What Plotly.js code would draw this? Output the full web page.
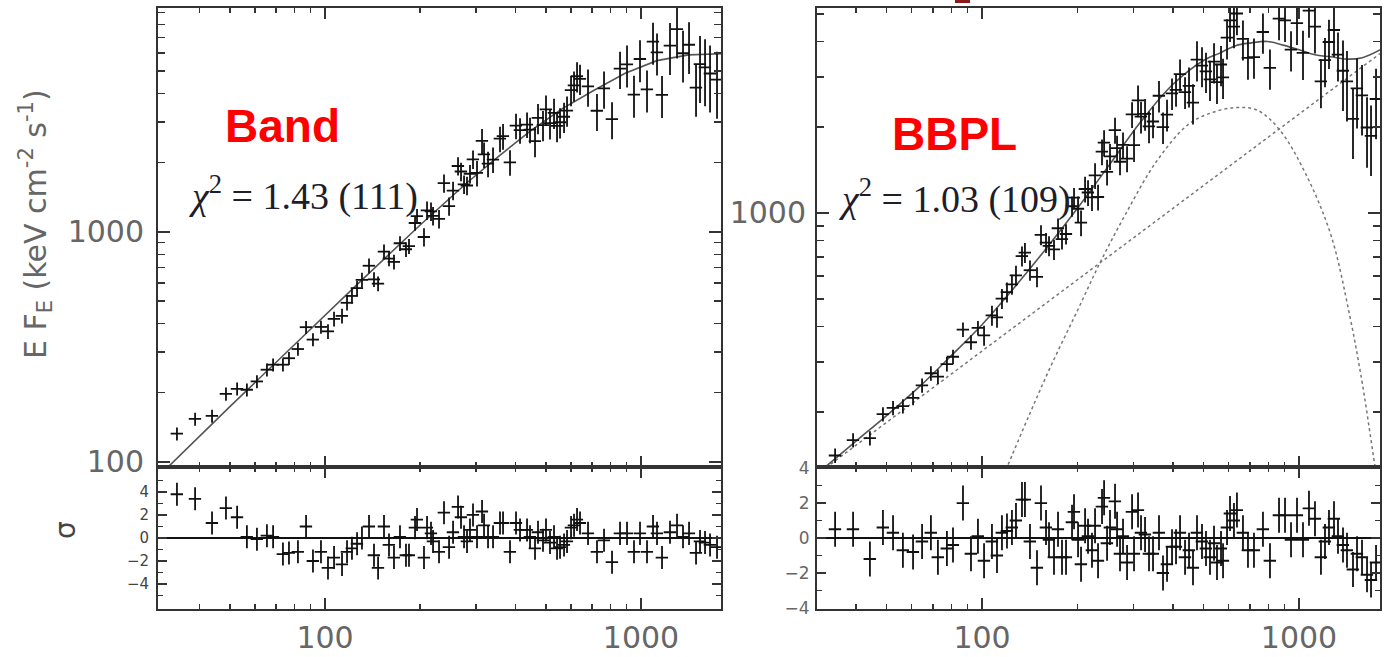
<!DOCTYPE html>
<html>
<head>
<meta charset="utf-8">
<script src="https://cdn.plot.ly/plotly-3.0.1.min.js"></script>
<style>html,body{margin:0;padding:0;background:#fff;}#chart{width:1386px;height:657px;}</style>
</head>
<body>
<div id="chart"></div>
<script>
// ---------- Band fit (left) ----------
const bandEnergy = [34.0, 38.8, 43.9, 48.6, 52.7, 56.6, 60.9, 65.5, 68.5, 73.6,
  76.9, 82.1, 87.1, 91.6, 97.1, 102.2, 106.8, 113.2, 117.4, 121.7,
  126.3, 130.9, 137.8, 142.9, 147.2, 153.7, 159.4, 165.3, 172.7, 180.4,
  184.4, 192.7, 195.5, 205.7, 210.3, 216.5, 219.7, 229.5, 238.0, 246.9,
  254.2, 263.6, 269.4, 275.4, 281.4, 287.6, 294.0, 302.7, 314.0, 318.6,
  328.0, 340.2, 357.9, 365.9, 385.0, 402.2, 414.1, 435.8, 445.4, 461.9,
  472.1, 489.6, 500.4, 515.2, 530.5, 542.3, 554.3, 570.7, 583.3, 600.6,
  613.8, 627.4, 641.2, 679.7, 725.6, 763.8, 809.6, 858.2, 903.1, 950.1,
  992.7, 1044.7, 1091.4, 1123.6, 1165.4, 1235.3, 1299.9, 1358.0, 1418.9, 1493.2,
  1537.2, 1594.3, 1653.6, 1739.9];
const bandFlux = [132.7, 153.8, 158.5, 197.6, 208, 206, 223.9, 251.8, 264.8, 264.8,
  282.5, 309.7, 385.5, 340.4, 386.4, 369.8, 418.8, 431.5, 492, 527,
  570, 619, 713, 622, 596, 822, 766, 741, 893, 841,
  867, 1094, 1172, 951, 1242, 1230, 1175, 1140, 1629, 1294,
  1514, 1936, 1832, 1611, 1592, 1791, 2070, 1807, 2489, 2173,
  1982, 2065, 2547, 2612, 2009, 2897, 2773, 2931, 2786, 2483,
  3133, 2917, 3412, 2972, 3296, 2891, 2999, 3170, 3373, 4140,
  4335, 4753, 4634, 4295, 3365, 4207, 3097, 5129, 5358, 3954,
  5649, 4169, 6730, 6039, 3945, 6457, 7621, 5984, 6516, 4246,
  5370, 5200, 4887, 4592];
const bandRelErrPct = [6.5,6.5,6.5,6.5,6.5,6.5,6.5,6.5,6.5,6.5,6.5,6.5,6.5,6.5,6.5,
  7.4,7.4,7.4,7.4,7.4,7.4,7.4,7.4,7.4,7.4,7.4,7.4,7.4,7.4,7.4,7.4,7.4,7.4,
  9.2,9.2,9.2,9.2,9.2,9.2,9.2,9.2,9.2,9.2,9.2,9.2,9.2,9.2,
  12.7,12.7,12.7,12.7,12.7,12.7,12.7,12.7,12.7,12.7,12.7,12.7,
  15,15,15,15,15,15,15,15,15,15,15,15,15,15,
  18.4,18.4,18.4,18.4,18.4,
  20.7,20.7,20.7,20.7,20.7,20.7,20.7,
  25.4,25.4,25.4,25.4,25.4,
  32.3,32.3,32.3,32.3];
const bandResid = [3.8, 3.4, 1.3, 2.6, 1.8, 0.1, -0.1, 0.2, 0.1, -1.4,
  -1.3, -1.2, 1.0, -2.0, -1.2, -2.6, -1.7, -2.3, -1.2, -0.9,
  -0.5, 0.0, 1.0, -1.5, -2.6, 1.0, -0.6, -1.7, 0.1, -1.5,
  -1.5, 0.9, 1.6, -1.7, 0.9, 0.4, -0.3, -1.2, 2.2, -0.8,
  0.5, 2.7, 1.8, 0.1, -0.3, 0.7, 2.0, 0.1, 2.3, 1.1,
  0.1, 0.1, 1.3, 1.3, -1.2, 1.3, 0.7, 0.7, 0.1, -0.9,
  0.5, -0.2, 0.7, -0.4, 0.1, -0.9, -0.8, -0.6, -0.3, 0.9,
  1.1, 1.6, 1.3, 0.4, -1.2, -0.2, -2.1, 0.4, 0.4, -1.2,
  0.4, -1.2, 1.0, 0.4, -1.7, 0.5, 1.1, 0.1, 0.4, -1.3,
  -0.3, -0.4, -0.6, -0.8];
const bandModelE = [31.6, 50, 79.4, 126, 200, 282, 355, 447, 562, 708, 891, 1122, 1413, 1820];
const bandModelF = [94, 174, 320, 589, 1072, 1641, 2138, 2754, 3428, 4121, 4898, 5559, 5888, 5957];

// ---------- BBPL fit (right) ----------
const bbplEnergy = [34.4, 39.2, 44.3, 48.7, 52.4, 56.3, 60.6, 64.7, 69.0, 72.6,
  77.5, 81.0, 87.1, 92.3, 97.1, 101.5, 107.5, 111.5, 115.6, 119.9,
  124.3, 128.0, 133.7, 136.6, 141.7, 149.1, 153.5, 159.2, 162.7, 168.7,
  173.7, 178.8, 184.1, 192.3, 195.1, 200.9, 205.3, 211.4, 216.0, 222.3,
  227.3, 232.3, 239.1, 242.7, 248.0, 253.4, 262.8, 266.7, 272.5, 278.5,
  286.8, 297.4, 301.7, 310.6, 317.4, 326.8, 336.4, 346.3, 361.7, 372.4,
  383.4, 397.6, 409.3, 421.4, 437.0, 449.8, 463.0, 476.7, 494.3, 508.9,
  523.9, 539.4, 551.2, 567.5, 575.9, 592.8, 605.9, 623.5, 637.2, 665.6,
  690.3, 721.1, 769.7, 809.9, 864.9, 903.4, 943.6, 985.6, 1029.4, 1075.2,
  1123.0, 1172.9, 1207.8, 1243.3, 1289.4, 1327.4, 1376.6, 1417.1, 1480.2, 1524.1,
  1580.4, 1639.0, 1687.3, 1749.9];
const bbplFlux = [141, 159.5, 162.2, 196.8, 207, 210, 224.4, 248.3, 274, 266.8,
  295, 313, 390, 352, 395, 372, 437.5, 430.5, 501, 528,
  562, 604, 706, 726, 630, 597, 838, 787, 767, 745,
  884, 810, 844, 1056, 1132, 1035, 925, 1214, 1180, 1135,
  1355, 1138, 1641, 1766, 1393, 1581, 1954, 1690, 1513, 1734,
  1552, 2218, 1730, 2483, 2178, 2228, 2014, 2094, 2578, 2000,
  2213, 2630, 2704, 3069, 2655, 2793, 2438, 3451, 3289, 3141,
  2944, 3396, 2877, 3319, 2992, 4121, 4742, 4508, 5012, 4083,
  3499, 3524, 4315, 3228, 4808, 4742, 3741, 4634, 3643, 5126,
  4508, 2897, 3436, 3981, 4385, 3597, 3155, 2897, 2138, 2735,
  2588, 1995, 1866, 2512];
const bbplRelErrPct = [5.8,5.8,5.8,5.8,5.8,5.8,5.8,5.8,5.8,5.8,5.8,5.8,5.8,5.8,5.8,
  8.1,8.1,8.1,8.1,8.1,8.1,8.1,8.1,8.1,8.1,8.1,8.1,8.1,8.1,8.1,8.1,8.1,8.1,8.1,8.1,
  10.4,10.4,10.4,10.4,10.4,10.4,10.4,10.4,10.4,10.4,10.4,10.4,10.4,10.4,10.4,10.4,10.4,
  12.7,12.7,12.7,12.7,12.7,12.7,12.7,12.7,12.7,12.7,12.7,12.7,12.7,
  16.1,16.1,16.1,16.1,16.1,16.1,16.1,16.1,16.1,16.1,16.1,16.1,16.1,16.1,16.1,16.1,16.1,16.1,16.1,16.1,16.1,16.1,16.1,
  19.6,19.6,19.6,19.6,19.6,19.6,19.6,19.6,
  27.7,27.7,27.7,27.7,27.7,27.7,27.7,27.7];
const bbplResid = [0.5, 0.5, -1.2, 0.6, 0.3, -0.7, -0.8, -0.2, 0.3, -1.1,
  -0.6, -0.4, 2.0, -0.9, 0.1, -1.3, -0.2, -1.0, 0.3, 0.4,
  0.6, 1.0, 2.2, 2.2, -0.2, -1.7, 2.0, 0.6, -0.1, -1.1,
  0.5, -1.1, -1.1, 0.9, 1.5, -0.1, -1.5, 0.7, 0.1, -0.7,
  0.7, -1.3, 1.8, 2.3, -0.3, 0.6, 2.1, 0.5, -0.9, 0.1,
  -1.4, 1.5, -0.9, 1.6, 0.3, 0.2, -0.9, -0.9, 0.3, -2.0,
  -1.5, -0.5, -0.5, 0.3, -1.1, -0.7, -1.7, 0.3, -0.2, -0.6,
  -1.1, -0.3, -1.4, -0.6, -1.3, 0.6, 1.4, 1.0, 1.6, 0.3,
  -0.7, -0.7, 0.5, -1.3, 1.3, 1.3, -0.1, 1.3, -0.1, 1.7,
  1.1, -1.1, -0.2, 0.6, 1.1, 0.1, -0.4, -0.7, -1.8, -0.9,
  -1.1, -2.1, -2.4, -1.4];
const bbplTotalE = [30.2, 39.8, 50.1, 63.1, 79.4, 100, 125.9, 158.5, 199.5, 251.2, 316.2, 398.1, 501.2, 562.3, 631, 707.9, 794.3, 891.3, 1000, 1122, 1259, 1413, 1585, 1820];
const bbplTotalF = [121.6, 157.4, 195, 244.3, 313.3, 405.5, 544.5, 744.7, 1035, 1466, 2084, 2812, 3436, 3639, 3864, 3954, 3999, 3882, 3741, 3589, 3532, 3467, 3508, 3758];
const plE = [30, 1800];
const plF = [120.5, 3622];
const bbE = [114.8, 120, 141.3, 166, 199.5, 235.5, 281.8, 354.8, 446.7, 524.8, 631, 741.3, 871, 1047, 1259, 1445, 1585, 1738, 1778];
const bbF = [114.8, 128.5, 197, 295, 452, 668, 977, 1514, 2042, 2239, 2344, 2291, 1950, 1380, 841, 437, 251, 128.8, 112];

// ---------- tick labels & texts ----------
const xMajorTicks = [100, 1000];
const xMajorLabels = ['100', '1000'];
const xMinorTicks = [40, 50, 60, 70, 80, 90, 200, 300, 400, 500, 600, 700, 800, 900];
const yLeftMajor = [100, 1000];
const yLeftLabels = ['100', '1000'];
const yLeftMinor = [200, 300, 400, 500, 600, 700, 800, 900, 2000, 3000, 4000, 5000, 6000, 7000, 8000, 9000];
const yRightMajor = [1000];
const yRightLabels = ['1000'];
const yRightMinor = [200, 300, 400, 500, 600, 700, 800, 900, 2000, 3000, 4000, 5000];
const residMajor = [-4, -2, 0, 2, 4];
const residLabels = ['\u22124', '\u22122', '0', '2', '4'];
const residMinorLeft = [-5, -3, -1, 1, 3, 5];
const residMinorRight = [-3, -1, 1, 3];
const labelBand = 'Band';
const labelBBPL = 'BBPL';
const chiBand = '<i>\u03c7</i><sup>2</sup> = 1.43 (111)';
const chiBBPL = '<i>\u03c7</i><sup>2</sup> = 1.03 (109)';
const yTitleTop = 'E F<sub>E</sub> (keV cm<sup>-2</sup> s<sup>-1</sup>)';
const yTitleRes = '\u03c3';

// ---------- styling ----------
const AX = 'DejaVu Sans, Liberation Sans, Arial, sans-serif';
const LINE = '#333';
const base = {showline:true, linecolor:LINE, linewidth:2, mirror:'ticks', ticks:'inside',
  tickcolor:LINE, tickwidth:1.5, showgrid:false, zeroline:false,
  tickfont:{family:AX, size:30, color:'#666'}};
function minorOf(vals, len){return {tickmode:'array', tickvals:vals, ticks:'inside', ticklen:len, tickcolor:LINE, tickwidth:1.5, showgrid:false};}
const errs = (f, p) => f.map((v, i) => v * p[i] / 100);
const ones = n => new Array(n).fill(1);

const crossStyle = {mode:'markers', marker:{size:1, color:'#111'}, hoverinfo:'skip'};
const ex = {type:'percent', value:4.5, color:'#111', thickness:1.8, width:0};

const traces = [
  {x:bandModelE, y:bandModelF, xaxis:'x', yaxis:'y', mode:'lines', line:{color:'#555', width:1.6}},
  Object.assign({x:bandEnergy, y:bandFlux, xaxis:'x', yaxis:'y',
    error_x:ex, error_y:{type:'data', array:errs(bandFlux, bandRelErrPct), color:'#111', thickness:1.8, width:0}}, crossStyle),
  Object.assign({x:bandEnergy, y:bandResid, xaxis:'x2', yaxis:'y2',
    error_x:ex, error_y:{type:'data', array:ones(bandResid.length), color:'#111', thickness:1.8, width:0}}, crossStyle),
  {x:plE, y:plF, xaxis:'x3', yaxis:'y3', mode:'lines', line:{color:'#777', width:1.5, dash:'dot'}},
  {x:bbE, y:bbF, xaxis:'x3', yaxis:'y3', mode:'lines', line:{color:'#777', width:1.5, dash:'dot', shape:'spline'}},
  {x:bbplTotalE, y:bbplTotalF, xaxis:'x3', yaxis:'y3', mode:'lines', line:{color:'#555', width:1.6, shape:'spline'}},
  Object.assign({x:bbplEnergy, y:bbplFlux, xaxis:'x3', yaxis:'y3',
    error_x:ex, error_y:{type:'data', array:errs(bbplFlux, bbplRelErrPct), color:'#111', thickness:1.8, width:0}}, crossStyle),
  Object.assign({x:bbplEnergy, y:bbplResid, xaxis:'x4', yaxis:'y4',
    error_x:ex, error_y:{type:'data', array:ones(bbplResid.length), color:'#111', thickness:1.8, width:0}}, crossStyle)
];

const topDom = [0.28919, 0.98858];
const botDom = [0.07382, 0.28919];
const leftDom = [0.1140, 0.5202];
const rightDom = [0.58947, 0.99567];

const layout = {
  width:1386, height:657, margin:{l:0, r:0, t:0, b:0, pad:0},
  paper_bgcolor:'#fff', plot_bgcolor:'#fff', showlegend:false,
  xaxis: Object.assign({}, base, {type:'log', domain:leftDom, range:[1.4715, 3.2531], anchor:'y',
    tickmode:'array', tickvals:xMajorTicks, ticktext:xMajorLabels, showticklabels:false, ticklen:11, minor:minorOf(xMinorTicks, 5)}),
  yaxis: Object.assign({}, base, {type:'log', domain:topDom, range:[1.978, 3.976], anchor:'x',
    tickmode:'array', tickvals:yLeftMajor, ticktext:yLeftLabels, ticklen:12, ticklabelstandoff:6, minor:minorOf(yLeftMinor, 7)}),
  xaxis2: Object.assign({}, base, {type:'log', domain:leftDom, range:[1.4715, 3.2531], anchor:'y2',
    tickmode:'array', tickvals:xMajorTicks, ticktext:xMajorLabels, ticklen:11, ticklabelstandoff:1, minor:minorOf(xMinorTicks, 5)}),
  yaxis2: Object.assign({}, base, {domain:botDom, range:[-6.13, 6.17], anchor:'x2',
    tickmode:'array', tickvals:residMajor, ticktext:residLabels, ticklen:9, ticklabelstandoff:4,
    tickfont:{family:AX, size:15, color:'#444'}, minor:minorOf(residMinorLeft, 5),
    zeroline:true, zerolinecolor:'#111', zerolinewidth:1.8}),
  xaxis3: Object.assign({}, base, {type:'log', domain:rightDom, range:[1.4795, 3.2555], anchor:'y3',
    tickmode:'array', tickvals:xMajorTicks, ticktext:xMajorLabels, showticklabels:false, ticklen:11, minor:minorOf(xMinorTicks, 5)}),
  yaxis3: Object.assign({}, base, {type:'log', domain:topDom, range:[2.1088, 3.721], anchor:'x3',
    tickmode:'array', tickvals:yRightMajor, ticktext:yRightLabels, ticklen:12, ticklabelstandoff:3, minor:minorOf(yRightMinor, 7)}),
  xaxis4: Object.assign({}, base, {type:'log', domain:rightDom, range:[1.4795, 3.2555], anchor:'y4',
    tickmode:'array', tickvals:xMajorTicks, ticktext:xMajorLabels, ticklen:11, ticklabelstandoff:1, minor:minorOf(xMinorTicks, 5)}),
  yaxis4: Object.assign({}, base, {domain:botDom, range:[-4.03, 4.06], anchor:'x4',
    tickmode:'array', tickvals:residMajor, ticktext:residLabels, ticklen:9, ticklabelstandoff:2,
    tickfont:{family:AX, size:17, color:'#666'}, minor:minorOf(residMinorRight, 5),
    zeroline:true, zerolinecolor:'#111', zerolinewidth:1.8}),
  annotations: [
    {text:'<b>'+labelBand+'</b>', xref:'paper', yref:'paper', x:282/1386, y:1-126/657, xanchor:'center', yanchor:'middle', showarrow:false,
      font:{family:'Liberation Sans, Arial, sans-serif', size:46, color:'#ff0000'}},
    {text:'<b>'+labelBBPL+'</b>', xref:'paper', yref:'paper', x:954/1386, y:1-134/657, xanchor:'center', yanchor:'middle', showarrow:false,
      font:{family:'Liberation Sans, Arial, sans-serif', size:46, color:'#ff0000'}},
    {text:chiBand, xref:'paper', yref:'paper', x:186/1386, y:1-193/657, xanchor:'left', yanchor:'middle', showarrow:false,
      font:{family:'Liberation Serif, Times New Roman, serif', size:38, color:'#1d1d2b'}},
    {text:chiBBPL, xref:'paper', yref:'paper', x:836/1386, y:1-196/657, xanchor:'left', yanchor:'middle', showarrow:false,
      font:{family:'Liberation Serif, Times New Roman, serif', size:38, color:'#1d1d2b'}},
    {text:yTitleTop, xref:'paper', yref:'paper', x:35/1386, y:1-224/657, xanchor:'center', yanchor:'middle', textangle:-90, showarrow:false,
      font:{family:AX, size:30, color:'#666'}},
    {text:yTitleRes, xref:'paper', yref:'paper', x:65/1386, y:1-530/657, xanchor:'center', yanchor:'middle', textangle:-90, showarrow:false,
      font:{family:AX, size:28, color:'#444'}}
  ],
  shapes: [
    {type:'rect', xref:'paper', yref:'paper', x0:955/1386, x1:970/1386, y0:1-3/657, y1:1, fillcolor:'#8b1a1a', line:{width:0}}
  ]
};

Plotly.newPlot('chart', traces, layout, {staticPlot:true, displayModeBar:false});
</script>
</body>
</html>
